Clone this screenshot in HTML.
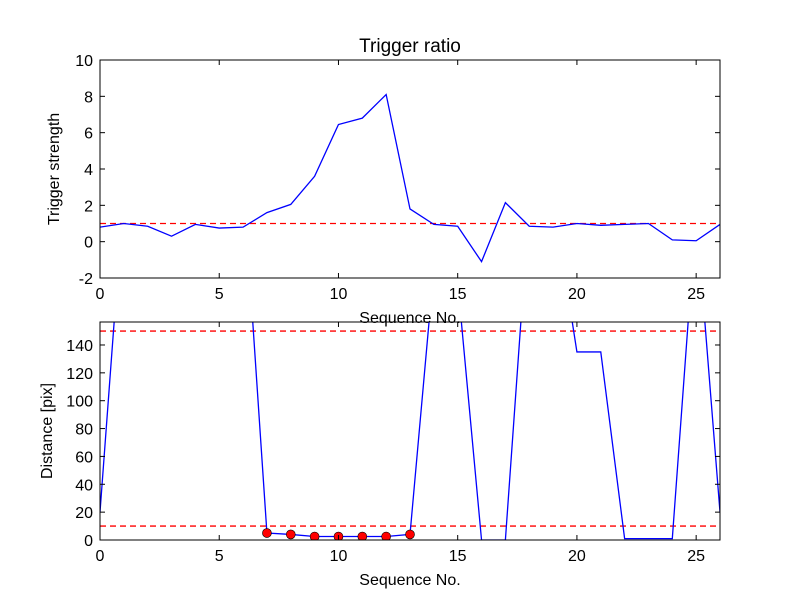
<!DOCTYPE html>
<html><head><meta charset="utf-8"><style>body{margin:0;background:#fff}svg{display:block;font-family:"Liberation Sans","DejaVu Sans",sans-serif}</style></head>
<body>
<svg id="c" width="800" height="600"></svg>
<script>
const xs=[0,1,2,3,4,5,6,7,8,9,10,11,12,13,14,15,16,17,18,19,20,21,22,23,24,25,26];
const ratio=[0.8,1.0,0.85,0.3,0.95,0.75,0.8,1.6,2.05,3.6,6.45,6.8,8.1,1.8,0.95,0.85,-1.1,2.15,0.85,0.8,1.0,0.9,0.95,1.0,0.1,0.05,0.95];
const dist=[20,250,300,300,300,300,260,5,4,2.5,2.5,2.5,2.5,4,195,185,0,0,241,245,135,135,1,1,1,235,20];
const markX=[7,8,9,10,11,12,13];
const markY=[5,4,2.5,2.5,2.5,2.5,4];
const xTicks=[0,5,10,15,20,25];
const yTicksTop=[-2,0,2,4,6,8,10];
const yTicksBot=[0,20,40,60,80,100,120,140];
const ratioThresh=[1];
const distThresh=[10,150];
const NS="http://www.w3.org/2000/svg";
const svg=document.getElementById('c');
function mk(t,a,p){const e=document.createElementNS(NS,t);for(const k in a)e.setAttribute(k,a[k]);(p||svg).appendChild(e);return e;}
const defs=mk('defs',{});
function panel(id,top,bot,ymin,ymax,yTicks,ys,thr,ylabel,title){
  const L=100,R=720;
  const sx=v=>L+(v-0)/26*(R-L);
  const sy=v=>bot-(v-ymin)/(ymax-ymin)*(bot-top);
  const cp=mk('clipPath',{id:'cp'+id},defs);
  mk('rect',{x:L,y:top,width:R-L,height:bot-top},cp);
  const g=mk('g',{'clip-path':'url(#cp'+id+')'});
  
  
  thr.forEach(t=>{const l=mk('line',{x1:L,x2:R,y1:sy(t),y2:sy(t),stroke:'#f00','stroke-width':1.3,'stroke-dasharray':'6,4'},g);
    
    });
  const pl=mk('polyline',{points:xs.map((x,i)=>sx(x)+','+sy(ys[i])).join(' '),fill:'none',stroke:'#00f','stroke-width':1.3},g);
  
  
  if(id==='distance'){markX.forEach((x,i)=>{const c=mk('circle',{cx:sx(x),cy:sy(markY[i]),r:4.5,fill:'#f00',stroke:'#000','stroke-width':0.6},g);
    
    });}
  const fr=mk('rect',{x:L,y:top,width:R-L,height:bot-top,fill:'none',stroke:'#000','stroke-width':1});
  
  
  xTicks.forEach(t=>{const x=sx(t);
    mk('line',{x1:x,x2:x,y1:bot,y2:bot-5,stroke:'#000'});mk('line',{x1:x,x2:x,y1:top,y2:top+5,stroke:'#000'});
    const tx=mk('text',{x:x,y:bot+21,'text-anchor':'middle','font-size':16});tx.textContent=t;
    
    });
  yTicks.forEach(t=>{const y=sy(t);
    mk('line',{x1:L,x2:L+5,y1:y,y2:y,stroke:'#000'});mk('line',{x1:R,x2:R-5,y1:y,y2:y,stroke:'#000'});
    const tx=mk('text',{x:L-7,y:y+6,'text-anchor':'end','font-size':16});tx.textContent=t;
    
    });
  const xl=mk('text',{x:410,y:bot+45,'text-anchor':'middle','font-size':16});xl.textContent='Sequence No.';
  
  
  const yl=mk('text',{x:0,y:0,'text-anchor':'middle','font-size':16,transform:'translate('+(id==='ratio'?59:52)+','+((top+bot)/2)+') rotate(-90)'});yl.textContent=ylabel;
  
  
  if(title){const ti=mk('text',{x:410,y:top-8,'text-anchor':'middle','font-size':19});ti.textContent=title;
    
    }
}
panel('ratio',60,278,-2,10,yTicksTop,ratio,ratioThresh,'Trigger strength','Trigger ratio');
panel('distance',322,540,0,156.5,yTicksBot,dist,distThresh,'Distance [pix]',null);
</script>
</body></html>
